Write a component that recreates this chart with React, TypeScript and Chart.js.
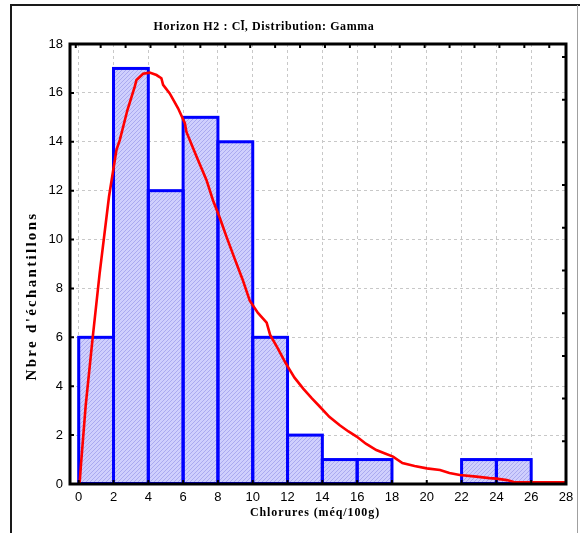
import React, { useEffect, useRef } from "react";
import { Chart, registerables } from "chart.js";

Chart.register(...registerables);

// ---- data ----
const binCenters = [1, 3, 5, 7, 9, 11, 13, 15, 17, 19, 21, 23, 25, 27];
const binCounts: (number | null)[] = [6, 17, 12, 15, 14, 6, 2, 1, 1, null, null, 1, 1, null];
const xTicks = [0, 2, 4, 6, 8, 10, 12, 14, 16, 18, 20, 22, 24, 26, 28];
const yTicks = [0, 2, 4, 6, 8, 10, 12, 14, 16, 18];
const curveX = [
  0.05, 0.12, 0.4, 0.79, 1.2, 1.74, 2.17, 2.36, 2.8, 3.22, 3.32, 3.7, 4.08, 4.47, 4.75, 4.85,
  5.23, 5.71, 6.1, 6.19, 6.77, 7.34, 7.72, 8.1, 8.5, 8.97, 9.4, 9.83, 10.3, 10.8, 11.0, 11.4,
  11.9, 12.1, 12.4, 12.9, 13.4, 13.86, 14.4, 15.0, 15.5, 15.97, 16.5, 17.1, 17.6, 18.06, 18.6,
  19.3, 20.0, 20.76, 21.3, 21.9, 22.85, 23.6, 24.0, 24.6, 25.0, 26.0, 27.0, 28.0,
];
const curveY = [
  0, 0.7, 3.2, 5.9, 8.6, 11.75, 13.67, 14.07, 15.3, 16.26, 16.53, 16.78, 16.83, 16.73, 16.6, 16.33,
  15.98, 15.37, 14.76, 14.4, 13.4, 12.44, 11.6, 10.9, 10.1, 9.2, 8.4, 7.5, 7.0, 6.6, 6.1, 5.6,
  4.94, 4.7, 4.35, 3.9, 3.5, 3.16, 2.75, 2.4, 2.15, 1.94, 1.65, 1.39, 1.25, 1.12, 0.86,
  0.74, 0.64, 0.57, 0.45, 0.37, 0.3, 0.24, 0.22, 0.16, 0.08, 0.07, 0.07, 0.07,
];
// secondary (top / right) tick marks of the fitted-distribution frame
const topTickStart = -0.17;
const topTickStep = 1.432;
const topTickCount = 20;
const rightTickStep = 1.747;
const rightTickCount = 10;

const titleText = "Horizon H2 : Cl\u0304, Distribution: Gamma";
const xTitle = "Chlorures (méq/100g)";
const yTitle = "Nbre d'échantillons";

function makePattern(): CanvasPattern | string {
  const c = document.createElement("canvas");
  c.width = 4;
  c.height = 4;
  const g = c.getContext("2d");
  if (!g) return "#c4c4f8";
  g.fillStyle = "#cfcffd";
  g.fillRect(0, 0, 4, 4);
  g.fillStyle = "#aaaaf0";
  for (let i = 0; i < 4; i++) g.fillRect(i, 3 - i, 1, 1);
  const p = g.createPattern(c, "repeat");
  return p || "#c4c4f8";
}

const decor = {
  id: "decor",
  beforeDraw(chart: any) {
    const ctx = chart.ctx;
    ctx.save();
    ctx.fillStyle = "#ffffff";
    ctx.fillRect(0, 0, chart.width, chart.height);
    ctx.strokeStyle = "#1a1a1a";
    ctx.lineWidth = 2;
    ctx.beginPath();
    ctx.moveTo(11, chart.height + 5);
    ctx.lineTo(11, 5);
    ctx.lineTo(chart.width + 5, 5);
    ctx.stroke();
    ctx.strokeStyle = "#a0a0a0";
    ctx.lineWidth = 1;
    ctx.beginPath();
    ctx.moveTo(577.5, 5);
    ctx.lineTo(577.5, chart.height);
    ctx.stroke();
    ctx.restore();
  },
  afterDatasetDraw(chart: any, args: any) {
    if (args.index !== 1) return;
    const ctx = chart.ctx;
    const meta = chart.getDatasetMeta(1);
    ctx.save();
    ctx.strokeStyle = "#0000ff";
    ctx.lineWidth = 3;
    ctx.lineJoin = "miter";
    meta.data.forEach((el: any, i: number) => {
      if (binCounts[i] == null) return;
      const l = el.x - el.width / 2;
      ctx.strokeRect(l, el.y, el.width, el.base - el.y);
    });
    ctx.restore();
  },
  afterDatasetsDraw(chart: any) {
    const ctx = chart.ctx;
    const a = chart.chartArea;
    const xs = chart.scales.x;
    const ys = chart.scales.y;
    ctx.save();
    ctx.strokeStyle = "#000";
    ctx.lineWidth = 3;
    ctx.strokeRect(a.left, a.top, a.right - a.left, a.bottom - a.top);
    ctx.lineWidth = 2;
    ctx.beginPath();
    xTicks.forEach((v) => {
      const px = xs.getPixelForValue(v);
      ctx.moveTo(px, a.bottom);
      ctx.lineTo(px, a.bottom - 4);
    });
    yTicks.forEach((v) => {
      const py = ys.getPixelForValue(v);
      ctx.moveTo(a.left, py);
      ctx.lineTo(a.left + 4, py);
    });
    for (let k = 0; k < topTickCount; k++) {
      const px = xs.getPixelForValue(topTickStart + k * topTickStep);
      ctx.moveTo(px, a.top);
      ctx.lineTo(px, a.top + 4);
    }
    for (let k = 1; k <= rightTickCount; k++) {
      const py = ys.getPixelForValue(k * rightTickStep);
      ctx.moveTo(a.right, py);
      ctx.lineTo(a.right - 4, py);
    }
    ctx.stroke();

    ctx.fillStyle = "#000";
    ctx.textAlign = "center";
    ctx.textBaseline = "middle";
    ctx.font = "bold 12px 'Liberation Serif'";
    (ctx as any).letterSpacing = "0.6px";
    ctx.fillText(titleText, 264, 27);
    ctx.font = "bold 12px 'Liberation Serif'";
    (ctx as any).letterSpacing = "0.9px";
    ctx.fillText(xTitle, 315, 513);
    ctx.translate(32, 296);
    ctx.rotate(-Math.PI / 2);
    ctx.font = "bold 15px 'Liberation Serif'";
    (ctx as any).letterSpacing = "2.3px";
    ctx.fillText(yTitle, 0, 0);
    ctx.restore();
  },
};

export default function App() {
  const ref = useRef<HTMLCanvasElement | null>(null);
  useEffect(() => {
    if (!ref.current) return;
    const chart = new Chart(ref.current, {
      type: "bar",
      data: {
        datasets: [
          {
            type: "line",
            data: curveX.map((x, i) => ({ x, y: curveY[i] })),
            borderColor: "#ff0000",
            borderWidth: 2.6,
            pointRadius: 0,
            tension: 0,
            order: 0,
          } as any,
          {
            type: "bar",
            data: binCenters.map((x, i) => ({ x, y: binCounts[i] })),
            backgroundColor: makePattern(),
            borderWidth: 0,
            barPercentage: 1,
            categoryPercentage: 1,
            order: 1,
          } as any,
        ],
      },
      options: {
        responsive: false,
        animation: false,
        devicePixelRatio: 1,
        layout: { padding: { top: 44, right: 14, left: 0, bottom: 0 } },
        plugins: { legend: { display: false }, tooltip: { enabled: false }, title: { display: false } },
        scales: {
          x: {
            type: "linear",
            offset: false,
            min: -0.5,
            max: 28,
            afterBuildTicks: (s: any) => {
              s.ticks = xTicks.map((v) => ({ value: v }));
            },
            afterFit: (s: any) => {
              s.height = 49;
            },
            grid: { color: "#c8c8c8", lineWidth: 1, drawTicks: false, offset: false },
            border: { display: false, dash: [3, 3] },
            ticks: {
              autoSkip: false,
              maxRotation: 0,
              padding: 6,
              color: "#000",
              font: { family: "'Liberation Sans'", size: 13 },
            },
          },
          y: {
            type: "linear",
            min: 0,
            max: 18,
            afterBuildTicks: (s: any) => {
              s.ticks = yTicks.map((v) => ({ value: v }));
            },
            afterFit: (s: any) => {
              s.width = 70;
            },
            grid: { color: "#c8c8c8", lineWidth: 1, drawTicks: false },
            border: { display: false, dash: [3, 3] },
            ticks: {
              padding: 7,
              color: "#000",
              font: { family: "'Liberation Sans'", size: 13 },
            },
          },
        },
      },
      plugins: [decor],
    } as any);
    return () => chart.destroy();
  }, []);
  return (
    <div style={{ position: "fixed", left: 0, top: 0, width: 580, height: 533 }}>
      <canvas ref={ref} width={580} height={533} style={{ width: 580, height: 533 }} />
    </div>
  );
}
